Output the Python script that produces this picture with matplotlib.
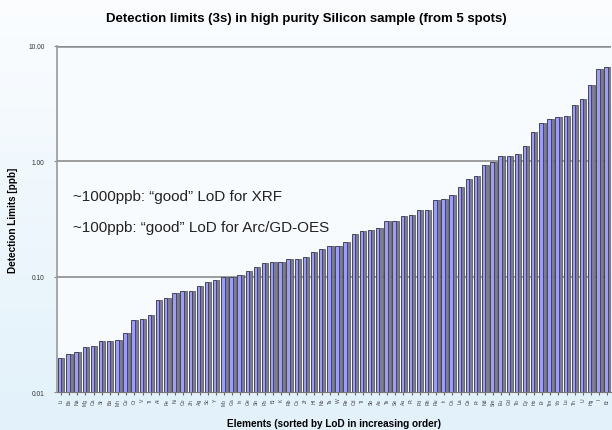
import matplotlib.pyplot as plt
import numpy as np

# Detection limits per element, sorted ascending (ppb)
elements = ['Li', 'Be', 'Na', 'Mg', 'Ca', 'Sr', 'Ba', 'Mn', 'Cu', 'Cr', 'V', 'Ti',
            'Al', 'Fe', 'Ni', 'Co', 'Zn', 'Ag', 'Sc', 'Y', 'Mo', 'Ga', 'In', 'Ge',
            'Sn', 'Pb', 'Bi', 'K', 'Rb', 'Cs', 'Zr', 'Hf', 'Nb', 'Ta', 'W', 'Re',
            'Cd', 'Tl', 'Sb', 'As', 'Te', 'Se', 'Au', 'Pt', 'Pd', 'Rh', 'Ru', 'Ir',
            'Os', 'La', 'Ce', 'Pr', 'Nd', 'Sm', 'Eu', 'Gd', 'Tb', 'Dy', 'Ho', 'Er',
            'Tm', 'Yb', 'Lu', 'Th', 'U', 'Hg', 'I', 'Br']
lod = [0.0198, 0.0214, 0.0223, 0.0246, 0.0251, 0.0278, 0.0278, 0.0283, 0.0326,
       0.0423, 0.0431, 0.0468, 0.0631, 0.0656, 0.0726, 0.0755, 0.0755,
       0.083, 0.0905, 0.094, 0.100, 0.100, 0.104, 0.113, 0.122, 0.132, 0.135,
       0.135, 0.141, 0.143, 0.149, 0.165, 0.175, 0.186,
       0.186, 0.201, 0.236, 0.247, 0.256, 0.267, 0.301, 0.301, 0.339, 0.346,
       0.375, 0.382, 0.458, 0.467, 0.506, 0.594, 0.697,
       0.741, 0.923, 0.98, 1.105, 1.105, 1.15, 1.35, 1.79, 2.14, 2.32, 2.41,
       2.46, 3.07, 3.46, 4.58, 6.3, 6.56]
yticks = [0.01, 0.1, 1, 10]
ytick_labels = ['0.01', '0.10', '1.00', '10.00']

plt.rcParams['font.family'] = ['Liberation Sans', 'DejaVu Sans']

fig = plt.figure(figsize=(6.12, 4.31), dpi=100)
fig.patch.set_facecolor('#eaf5fb')

# soft background gradient behind everything
bg = fig.add_axes([0, 0, 1, 1], zorder=-5)
grad = np.linspace(0, 1, 256).reshape(-1, 1)
bg.imshow(grad, aspect='auto', cmap=plt.cm.colors.LinearSegmentedColormap.from_list(
    'bg', ['#fbfdff', '#e2f1fa']), extent=[0, 1, 0, 1], origin='upper')
bg.axis('off')

ax = fig.add_axes([0.093, 0.088, 0.906, 0.803])
ax.set_facecolor('#f8fbfe')
x = np.arange(len(lod))

# side face (3D look) then front face
ax.bar(x + 0.2, lod, width=0.46, color='#7e7e8a', edgecolor='#4e4e58', linewidth=0.5, zorder=2)
ax.bar(x - 0.15, lod, width=0.42, color='#9c9cff', edgecolor='#44445e', linewidth=0.7, zorder=3)

ax.set_yscale('log')
ax.set_ylim(0.01, 10)
ax.set_xlim(-0.5, len(lod) - 0.5)
ax.set_yticks(yticks)
ax.set_yticklabels(ytick_labels, fontsize=4.8, color='#333333')
ax.minorticks_off()
ax.tick_params(axis='y', length=2, color='#888888', pad=7)
ax.set_xticks(x)
ax.set_xticklabels(elements, rotation=90, fontsize=3.6, color='#444444')
ax.tick_params(axis='x', length=2, color='#666666', pad=2)

for v in [0.1, 1]:
    ax.axhline(v, color='#8c8c8c', linewidth=1.2, zorder=1)
ax.axhline(10, color='#8c8c8c', linewidth=1.8, zorder=1)

ax.spines['right'].set_visible(False)
ax.spines['top'].set_visible(False)
ax.spines['left'].set_color('#999999')
ax.spines['left'].set_linewidth(1.2)
ax.spines['bottom'].set_color('#777777')

ax.set_ylabel('Detection Limits [ppb]', fontsize=7.2, fontweight='bold', labelpad=7)
ax.set_xlabel('Elements (sorted by LoD in increasing order)', fontsize=7.2,
              fontweight='bold', labelpad=9)
fig.text(0.5, 0.957, 'Detection limits (3s) in high purity Silicon sample (from 5 spots)',
         ha='center', va='center', fontsize=9.5, fontweight='bold')

ax.text(0.029, 0.566, '~1000ppb: \u201cgood\u201d LoD for XRF', transform=ax.transAxes,
        fontsize=11, color='#222222', va='center')
ax.text(0.029, 0.477, '~100ppb: \u201cgood\u201d LoD for Arc/GD-OES', transform=ax.transAxes,
        fontsize=11, color='#222222', va='center')

fig.savefig('out.png', dpi=100, facecolor=fig.get_facecolor())
